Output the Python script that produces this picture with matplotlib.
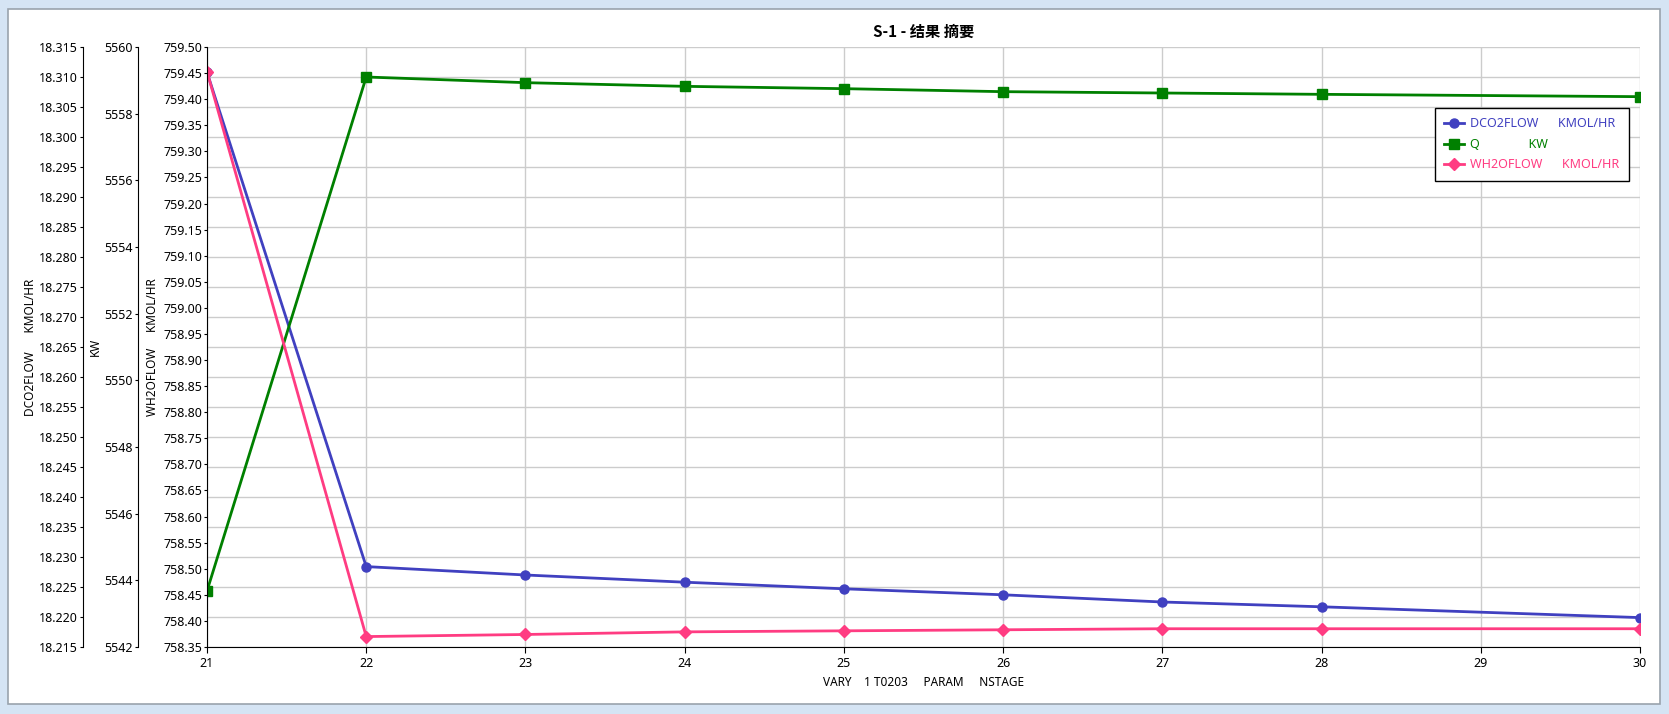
import matplotlib.pyplot as plt
from matplotlib.patches import Rectangle

plt.rcParams['font.family'] = ['Noto Sans', 'Noto Sans CJK SC', 'DejaVu Sans']

# data
nstage = [21, 22, 23, 24, 25, 26, 27, 28, 30]
dco2flow = [18.3108, 18.2284, 18.2270, 18.2258, 18.2247, 18.2237, 18.2225, 18.2217, 18.2199]
q_kw = [5543.68, 5559.10, 5558.93, 5558.82, 5558.75, 5558.66, 5558.62, 5558.58, 5558.51]
wh2oflow = [759.453, 758.370, 758.374, 758.379, 758.381, 758.383, 758.385, 758.385, 758.385]

x_ticks = list(range(21, 31))
dco2_ticks = [18.215 + 0.005 * i for i in range(21)]
kw_ticks = list(range(5542, 5561, 2))
wh2o_ticks = [758.35 + 0.05 * i for i in range(24)]

blue = '#4040C0'
green = '#008000'
pink = '#FF3C82'

W, H = 1669, 714
fig = plt.figure(figsize=(W / 100, H / 100), dpi=100)

# window frame
fig.patches.append(Rectangle((0, 0), 1, 1, transform=fig.transFigure,
                             facecolor='#D5E4F4', edgecolor='none', zorder=-10))
fig.patches.append(Rectangle((8 / W, 1 - 704 / H), (1660 - 8) / W, (704 - 9) / H,
                             transform=fig.transFigure, facecolor='white',
                             edgecolor='#9AA3AD', linewidth=1.2, zorder=-9))

left, right, top, bottom = 207, 1640, 47, 647
pw = right - left
ax = fig.add_axes([left / W, 1 - bottom / H, pw / W, (bottom - top) / H])
ax.patch.set_alpha(0)
ax_kw = ax.twinx()
ax_w = ax.twinx()

# move the spines first: set_position resets the ticks
ax.spines['left'].set_position(('axes', -(left - 82.7) / pw))
for a in (ax_kw, ax_w):
    a.yaxis.set_ticks_position('left')
    a.yaxis.set_label_position('left')
    a.spines['left'].set_visible(True)
    a.spines['bottom'].set_visible(False)
ax_kw.spines['left'].set_position(('axes', -(left - 137.5) / pw))

fs = 9
lfs = 8.5

# host axis: DCO2FLOW, owns the grid
ax.plot(nstage, dco2flow, color=blue, lw=2, marker='o', ms=6.5, label='DCO2FLOW      KMOL/HR')
ax.set_ylim(18.215, 18.315)
ax.set_yticks(dco2_ticks)
ax.set_yticklabels([f'{v:.3f}' for v in dco2_ticks])
ax.set_ylabel('DCO2FLOW      KMOL/HR', fontsize=lfs)
ax.yaxis.set_label_coords(-(left - 37) / pw, 0.5)
ax.set_xlim(21, 30)
ax.set_xticks(x_ticks)
ax.set_xticklabels([str(v) for v in x_ticks])
ax.set_xlabel('VARY    1 T0203     PARAM     NSTAGE', fontsize=lfs, labelpad=4)
ax.grid(True, color='#CCCCCC', lw=1)
ax.set_axisbelow(True)

ax_kw.plot(nstage, q_kw, color=green, lw=2, marker='s', ms=6.5, label='Q               KW')
ax_kw.set_ylim(5542, 5560)
ax_kw.set_yticks(kw_ticks)
ax_kw.set_yticklabels([str(v) for v in kw_ticks])
ax_kw.set_ylabel('KW', fontsize=lfs)
ax_kw.yaxis.set_label_coords(-(left - 102) / pw, 0.5)

ax_w.plot(nstage, wh2oflow, color=pink, lw=2, marker='D', ms=6, label='WH2OFLOW      KMOL/HR')
ax_w.set_ylim(758.35, 759.50)
ax_w.set_yticks(wh2o_ticks)
ax_w.set_yticklabels([f'{v:.2f}' for v in wh2o_ticks])
ax_w.set_ylabel('WH2OFLOW     KMOL/HR', fontsize=lfs)
ax_w.yaxis.set_label_coords(-(left - 159) / pw, 0.5)

for a in (ax, ax_kw, ax_w):
    a.spines['right'].set_visible(False)
    a.spines['top'].set_visible(False)
    a.tick_params(axis='y', direction='out', length=2.5, pad=1, labelsize=fs)
ax.tick_params(axis='x', direction='out', length=4, pad=3.5, labelsize=fs)

ax.set_title('S-1 - 结果 摘要', fontsize=11, fontweight='bold', pad=7,
             family=['Noto Sans CJK SC', 'DejaVu Sans'])

handles = []
labels = []
for a in (ax, ax_kw, ax_w):
    h, l = a.get_legend_handles_labels()
    handles += h
    labels += l
leg = ax_w.legend(handles, labels, loc='upper right', fontsize=9,
                  bbox_to_anchor=(1629 / W, 1 - 108 / H), bbox_transform=fig.transFigure,
                  borderaxespad=0, fancybox=False, framealpha=1, edgecolor='black',
                  borderpad=0.75, handlelength=1.6, handletextpad=0.5, labelspacing=0.6)
leg.get_frame().set_linewidth(1)
for txt, c in zip(leg.get_texts(), (blue, green, pink)):
    txt.set_color(c)

fig.savefig('out.png', dpi=100)
